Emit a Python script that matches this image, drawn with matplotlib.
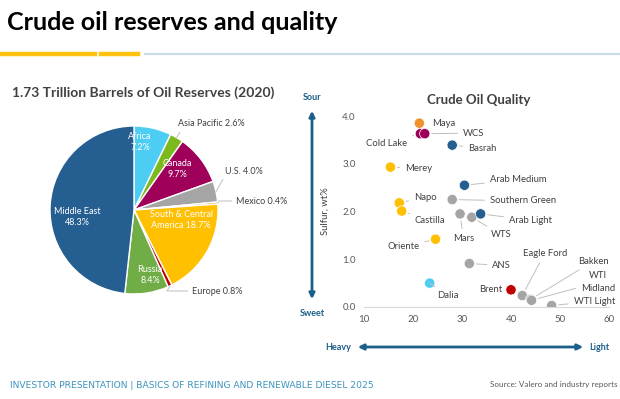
import matplotlib
matplotlib.use("Agg")
import matplotlib.pyplot as plt
import numpy as np
from matplotlib.lines import Line2D
from matplotlib.patches import FancyArrowPatch

plt.rcParams["font.family"] = ["Lato", "DejaVu Sans"]

# ---------------------------------------------------------------------------
#   DATA
# ---------------------------------------------------------------------------

regions = ["Africa", "Asia Pacific", "Canada", "U.S.", "Mexico",
           "South & Central\nAmerica", "Europe", "Russia", "Middle East"]
reserve_share = [7.2, 2.6, 9.7, 4.0, 0.4, 18.7, 0.8, 8.4, 48.3]

crudes = ["Maya", "Cold Lake", "WCS", "Basrah", "Merey", "Arab Medium",
          "Southern Green", "Napo", "Castilla", "Mars", "WTS", "Arab Light",
          "Oriente", "ANS", "Dalia", "Brent", "Eagle Ford", "Bakken",
          "WTI\nMidland", "WTI Light"]
api_gravity = [21.3, 21.5, 22.4, 28.0, 15.4, 30.5, 28.0, 17.2, 17.7, 29.6,
               32.0, 33.8, 24.6, 31.5, 23.4, 40.0, 42.3, 44.0, 44.2, 48.3]
sulfur_wt = [3.85, 3.63, 3.63, 3.39, 2.93, 2.55, 2.25, 2.18, 2.01, 1.95,
             1.88, 1.95, 1.42, 0.91, 0.50, 0.36, 0.24, 0.16, 0.14, 0.03]
crude_origin = ["mexico", "canada", "canada", "mideast", "latam", "mideast",
                "us", "latam", "latam", "us", "us", "mideast", "latam", "us",
                "africa", "europe", "us", "us", "us", "us"]

# ---------------------------------------------------------------------------
#   STYLE / LAYOUT
# ---------------------------------------------------------------------------

W, H = 620, 399
DARK = "#404040"
ARROW = "#1b5f8a"
LEADER = "#bfbfbf"

pie_colors = ["#4dcdf4", "#7cb91c", "#9e005a", "#a5a5a5", "#ee8b2a",
              "#ffc000", "#c00000", "#70ad47", "#255e91"]
origin_colors = {"mexico": "#f0922b", "canada": "#9e005a", "mideast": "#255e91",
                 "latam": "#ffc000", "us": "#a5a5a5", "africa": "#4dcdf4",
                 "europe": "#c00000"}

# label positions in figure pixels (from top-left), inside or outside the pie
pie_label_px = {
    "Africa": (140, 142, "in"),
    "Asia Pacific": (178, 124, "out"),
    "Canada": (177, 169, "in"),
    "U.S.": (225, 171, "out"),
    "Mexico": (236, 201, "out"),
    "South & Central\nAmerica": (181, 220, "in"),
    "Europe": (192, 291, "out"),
    "Russia": (150, 275, "in"),
    "Middle East": (77, 217, "in"),
}

# label anchor for each crude: (x, y, ha, leader)
crude_label = {
    "Maya": (24.0, 3.84, "left", False),
    "Cold Lake": (18.8, 3.43, "right", True),
    "WCS": (30.2, 3.64, "left", True),
    "Basrah": (31.3, 3.32, "left", True),
    "Merey": (18.4, 2.91, "left", True),
    "Arab Medium": (35.7, 2.67, "left", True),
    "Southern Green": (35.7, 2.22, "left", True),
    "Napo": (20.2, 2.30, "left", True),
    "Castilla": (20.4, 1.81, "left", True),
    "Mars": (30.3, 1.43, "center", True),
    "WTS": (35.9, 1.51, "left", True),
    "Arab Light": (39.6, 1.82, "left", True),
    "Oriente": (21.3, 1.26, "right", True),
    "ANS": (36.2, 0.87, "left", True),
    "Dalia": (24.9, 0.24, "left", True),
    "Brent": (38.2, 0.36, "right", False),
    "Eagle Ford": (46.9, 1.13, "center", True),
    "Bakken": (53.7, 0.96, "left", True),
    "WTI\nMidland": (57.8, 0.52, "center", True),
    "WTI Light": (52.8, 0.12, "left", True),
}


def fx(px):
    return px / W


def fy(py):
    return 1 - py / H


fig = plt.figure(figsize=(W / 100, H / 100), dpi=100)

# header
fig.text(fx(7), fy(22), "Crude oil reserves and quality", fontsize=18,
         fontweight="bold", color="black", va="center", ha="left")
fig.add_artist(Line2D([0, fx(95)], [fy(54)] * 2, color="#ffc20e", lw=3.2))
fig.add_artist(Line2D([fx(101), fx(138)], [fy(54)] * 2, color="#ffc20e", lw=3.2))
fig.add_artist(Line2D([fx(145), 1], [fy(54)] * 2, color="#c9dbe5", lw=1.6))

# ---------------------------------------------------------------------------
#   PIE
# ---------------------------------------------------------------------------

cx, cy, rad = 134, 210, 84
ax_pie = fig.add_axes([fx(cx - rad), fy(cy + rad), 2 * rad / W, 2 * rad / H])
wedges, _ = ax_pie.pie(reserve_share, colors=pie_colors, startangle=90,
                       counterclock=False,
                       wedgeprops=dict(edgecolor="white", linewidth=1.0))
ax_pie.set_xlim(-1, 1)
ax_pie.set_ylim(-1, 1)
ax_pie.set_aspect("equal")
ax_pie.axis("off")

fig.text(fx(12), fy(93), "1.73 Trillion Barrels of Oil Reserves (2020)",
         fontsize=10, fontweight="bold", color=DARK, va="center", ha="left")

for name, share, wedge in zip(regions, reserve_share, wedges):
    lx, ly, where = pie_label_px[name]
    dx, dy = (lx - cx) / rad, (cy - ly) / rad
    if where == "in":
        text = f"{name} {share:.1f}%" if "\n" in name else f"{name}\n{share:.1f}%"
        ax_pie.text(dx, dy, text, color="white", fontsize=6.5, ha="center",
                    va="center", linespacing=1.35)
    else:
        ang = np.deg2rad((wedge.theta1 + wedge.theta2) / 2)
        ax_pie.annotate(f"{name} {share:.1f}%", xy=(np.cos(ang), np.sin(ang)),
                        xytext=(dx, dy), fontsize=6.5, color=DARK,
                        ha="left", va="center", annotation_clip=False,
                        arrowprops=dict(arrowstyle="-", color=LEADER, lw=0.7,
                                        shrinkA=1, shrinkB=0,
                                        connectionstyle="angle,angleA=0,angleB=60,rad=0"))

# ---------------------------------------------------------------------------
#   SCATTER
# ---------------------------------------------------------------------------

ax = fig.add_axes([fx(364), fy(307), (609 - 364) / W, (307 - 116) / H])
ax.scatter(api_gravity, sulfur_wt, s=55,
           c=[origin_colors[o] for o in crude_origin],
           edgecolors="white", linewidths=0.5, zorder=3)
ax.set_xlim(10, 60)
ax.set_ylim(0, 4)
ax.set_xticks(range(10, 61, 10))
ax.set_yticks(range(0, 5))
ax.set_yticklabels([f"{v:.1f}" for v in range(0, 5)])
ax.tick_params(length=0, labelsize=7, colors="#595959", pad=6)
for side in ["top", "right", "left"]:
    ax.spines[side].set_visible(False)
ax.spines["bottom"].set_color("#d9d9d9")
ax.set_ylabel("Sulfur, wt%", fontsize=6.8, color=DARK, labelpad=9)
ax.set_title("Crude Oil Quality", fontsize=9.5, fontweight="bold",
             color=DARK, pad=9, x=0.47)

for name, x, y in zip(crudes, api_gravity, sulfur_wt):
    tx, ty, ha, leader = crude_label[name]
    props = dict(arrowstyle="-", color=LEADER, lw=0.7, shrinkA=2, shrinkB=5) if leader else None
    ax.annotate(name, xy=(x, y), xytext=(tx, ty), fontsize=6.8, color=DARK,
                ha=ha, va="center", annotation_clip=False, arrowprops=props,
                linespacing=1.5)

# sour/sweet and heavy/light arrows
fig.add_artist(FancyArrowPatch(
    (fx(312), fy(108)), (fx(312), fy(302)), transform=fig.transFigure,
    arrowstyle="<|-|>", mutation_scale=8, color=ARROW, lw=2))
fig.add_artist(FancyArrowPatch(
    (fx(355), fy(347)), (fx(586), fy(347)), transform=fig.transFigure,
    arrowstyle="<|-|>", mutation_scale=8, color=ARROW, lw=2))
fig.text(fx(312), fy(97), "Sour", fontsize=6.5, fontweight="bold", color=ARROW,
         ha="center", va="center")
fig.text(fx(312), fy(313), "Sweet", fontsize=6.5, fontweight="bold", color=ARROW,
         ha="center", va="center")
fig.text(fx(351), fy(348), "Heavy", fontsize=6.5, fontweight="bold", color=ARROW,
         ha="right", va="center")
fig.text(fx(589), fy(348), "Light", fontsize=6.5, fontweight="bold", color=ARROW,
         ha="left", va="center")

# footer
fig.text(fx(10), fy(386),
         "INVESTOR PRESENTATION | BASICS OF REFINING AND RENEWABLE DIESEL 2025",
         fontsize=6.6, color="#3d93bd", ha="left", va="center",
         family=["DejaVu Sans"])
fig.text(fx(617), fy(385), "Source: Valero and industry reports", fontsize=5.9,
         color="#595959", ha="right", va="center")

fig.savefig("out.png", dpi=100)
